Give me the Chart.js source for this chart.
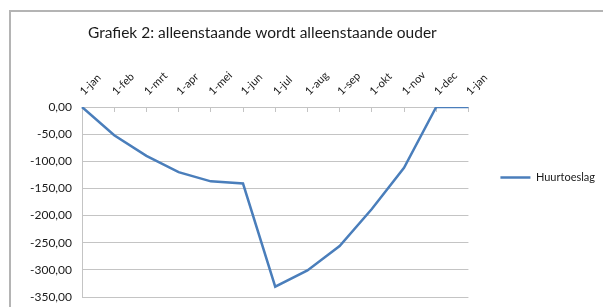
<!DOCTYPE html>
<html>
<head>
<meta charset="utf-8">
<script src="https://cdn.jsdelivr.net/npm/chart.js@4/dist/chart.umd.min.js"></script>
<style>
  html, body { margin: 0; background: #fff; overflow: hidden; width: 603px; height: 307px; }
  #frame {
    position: absolute; left: 9px; top: 10px; width: 700px; height: 400px;
    border-left: 2px solid #b4b4b4; border-top: 2px solid #b4b4b4;
  }
  #wrap { position: absolute; left: 0; top: 0; width: 603px; height: 307px; }
</style>
</head>
<body>
<div id="frame"></div>
<div id="wrap"><canvas id="chart"></canvas></div>
<script>
// Axis labels (month starts) and rent allowance difference per month
const months = ['1-jan', '1-feb', '1-mrt', '1-apr', '1-mei', '1-jun', '1-jul',
  '1-aug', '1-sep', '1-okt', '1-nov', '1-dec', '1-jan'];
const huurtoeslag = [0, -52, -90, -120, -137, -141, -331, -301, -256, -188, -112, 0, 0];

const chartTitle = 'Grafiek 2: alleenstaande wordt alleenstaande ouder';
const FONT = 'Lato, "Open Sans", sans-serif';

// Format like Excel Dutch: 0,00
function formatValue(value) {
  return value.toFixed(2).replace('.', ',');
}

// Title drawn at a fixed spot, like the Excel chart
const titlePlugin = {
  id: 'fixedTitle',
  afterDraw(chart) {
    const ctx = chart.ctx;
    ctx.save();
    ctx.font = '15.5px ' + FONT;
    ctx.fillStyle = '#1a1a1a';
    ctx.textBaseline = 'alphabetic';
    ctx.fillText(chartTitle, 88, 38);
    ctx.restore();
  }
};

new Chart(document.getElementById('chart'), {
  type: 'line',
  data: {
    labels: months,
    datasets: [{
      label: 'Huurtoeslag',
      data: huurtoeslag,
      borderColor: '#4A7EBB',
      backgroundColor: '#4A7EBB',
      borderWidth: 2.5,
      pointRadius: 0,
      tension: 0
    }]
  },
  options: {
    responsive: true,
    maintainAspectRatio: false,
    animation: false,
    layout: {
      padding: { top: 67, left: 10, right: -2, bottom: 10 }
    },
    scales: {
      x: {
        position: 'top',
        offset: false,
        afterFit: function(scale) { scale.height = 40; },
        grid: {
          display: true,
          drawOnChartArea: false,
          drawTicks: true,
          tickLength: -5,
          color: '#c4c4c4'
        },
        border: { display: false },
        ticks: {
          autoSkip: false,
          minRotation: 45,
          maxRotation: 45,
          padding: 14,
          labelOffset: 9,
          color: '#1a1a1a',
          font: { family: FONT, size: 11 }
        }
      },
      y: {
        min: -350,
        max: 0,
        afterFit: function(scale) {
          scale.width = 72;
          scale.paddingBottom = 7;
        },
        grid: { color: '#c4c4c4', lineWidth: 1, drawTicks: false },
        border: { display: true, color: '#c4c4c4' },
        ticks: {
          stepSize: 50,
          padding: 10,
          color: '#1a1a1a',
          font: { family: FONT, size: 12 },
          callback: function(value) {
            return formatValue(value);
          }
        }
      }
    },
    plugins: {
      title: { display: false },
      tooltip: { enabled: false },
      legend: {
        position: 'right',
        align: 'start',
        fullSize: false,
        title: {
          display: true,
          text: ' ',
          font: { size: 10, lineHeight: 1.2 },
          padding: { top: 0, bottom: 21 }
        },
        labels: {
          usePointStyle: true,
          pointStyle: 'line',
          pointStyleWidth: 30,
          padding: 32,
          color: '#1a1a1a',
          font: { family: FONT, size: 11 }
        }
      }
    }
  },
  plugins: [titlePlugin]
});
</script>
</body>
</html>
